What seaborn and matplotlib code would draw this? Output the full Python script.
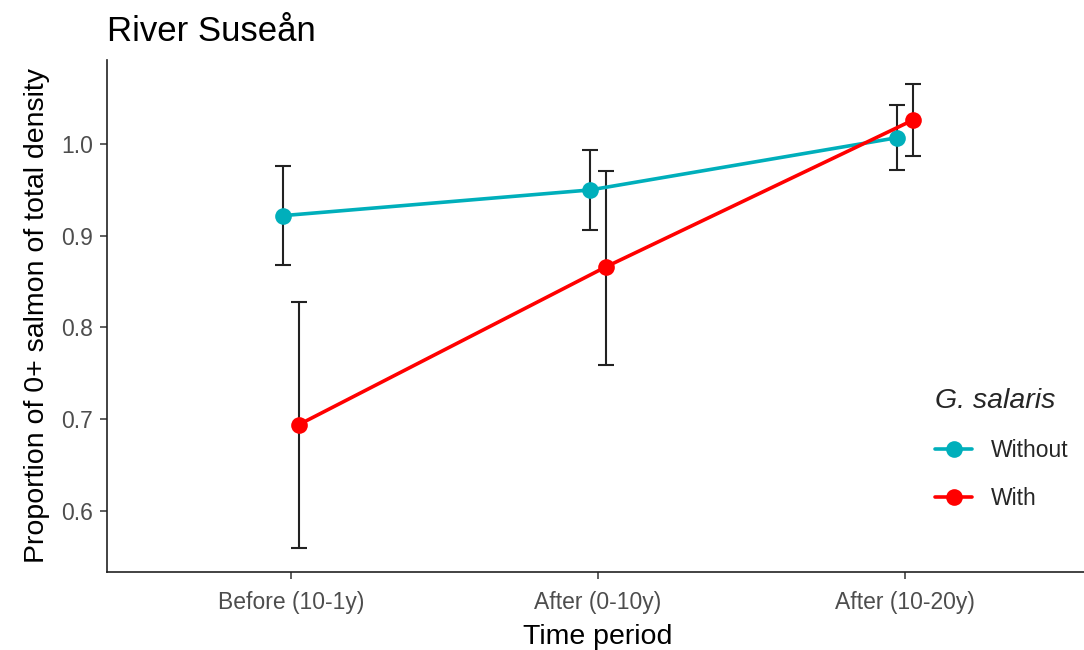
import matplotlib
matplotlib.use("Agg")
import matplotlib.pyplot as plt
from matplotlib.lines import Line2D
import numpy as np
import pandas as pd
import seaborn as sns

# Data: mean proportion with lower/upper interval per time period and group
periods = ["Before (10-1y)", "After (0-10y)", "After (10-20y)"]
groups = ["Without", "With"]
without_mean = [0.922, 0.950, 1.007]
without_lo = [0.868, 0.906, 0.972]
without_hi = [0.976, 0.994, 1.043]
with_mean = [0.694, 0.866, 1.026]
with_lo = [0.559, 0.759, 0.987]
with_hi = [0.828, 0.971, 1.066]
y_ticks = [0.6, 0.7, 0.8, 0.9, 1.0]

palette = {"Without": "#00AFBB", "With": "#FF0000"}
dodge = {"Without": -0.025, "With": 0.025}

rows = []
for g, m, lo, hi in [("Without", without_mean, without_lo, without_hi),
                     ("With", with_mean, with_lo, with_hi)]:
    for i, p in enumerate(periods):
        rows.append({"period": p, "pos": i + dodge[g], "group": g,
                     "mean": m[i], "lo": lo[i], "hi": hi[i]})
df = pd.DataFrame(rows)

sns.set_theme(style="ticks")
plt.rcParams["font.family"] = ["Liberation Sans", "DejaVu Sans"]

fig = plt.figure(figsize=(10.84, 6.5), dpi=100)
ax = fig.add_axes([0.0987, 0.12, 0.906, 0.7877])

# error bars underneath the lines and points
for g in groups:
    sub = df[df["group"] == g]
    ax.errorbar(sub["pos"], sub["mean"],
                yerr=[sub["mean"] - sub["lo"], sub["hi"] - sub["mean"]],
                fmt="none", ecolor="#222222", elinewidth=1.5,
                capsize=6, capthick=1.5, zorder=1)

sns.lineplot(data=df, x="pos", y="mean", hue="group", hue_order=groups,
             palette=palette, marker="o", markersize=12,
             markeredgewidth=0, linewidth=2.6, sort=False,
             legend=False, ax=ax, zorder=3)

ax.set_xlim(-0.6, 2.6)
ax.set_ylim(0.5333, 1.0917)
ax.set_xticks(range(len(periods)))
ax.set_xticklabels(periods)
ax.set_yticks(y_ticks)
ax.set_yticklabels([f"{v:.1f}" for v in y_ticks])

ax.tick_params(axis="both", colors="#333333", labelcolor="#4D4D4D",
               labelsize=16.5, length=5, width=1.1)
ax.tick_params(axis="x", pad=9)
ax.tick_params(axis="y", pad=5)
for side in ["top", "right"]:
    ax.spines[side].set_visible(False)
for side in ["left", "bottom"]:
    ax.spines[side].set_color("#222222")
    ax.spines[side].set_linewidth(1.2)

ax.set_xlabel("Time period", fontsize=20.5, color="black", labelpad=7)
ax.set_ylabel("Proportion of 0+ salmon of total density", fontsize=20.5,
              color="black", labelpad=8)
ax.set_title("River Suseån", fontsize=25, loc="left", color="black", pad=14,
             x=0.0)

handles = [Line2D([0], [0], color=palette[g], linewidth=2.6, marker="o",
                  markersize=12, markeredgewidth=0) for g in groups]
leg = ax.legend(handles, groups, title="G. salaris", frameon=False,
                loc="upper left", bbox_to_anchor=(0.863, 0.403),
                bbox_transform=fig.transFigure, fontsize=16.5,
                title_fontproperties={"size": 20.5, "style": "italic"},
                handlelength=1.6, handletextpad=0.8, labelspacing=1.1,
                borderpad=0, borderaxespad=0, alignment="left")

fig.savefig("out.png", dpi=100)
